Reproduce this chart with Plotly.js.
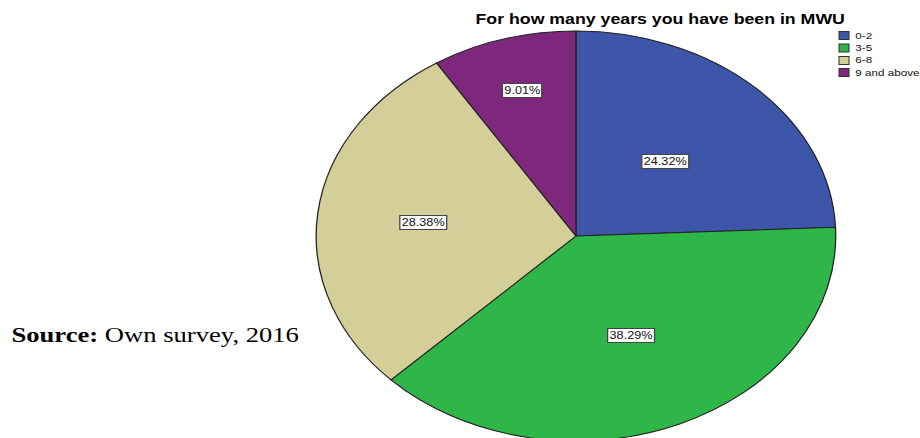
<!DOCTYPE html>
<html><head><meta charset="utf-8">
<script src="https://cdn.plot.ly/plotly-3.0.1.min.js"></script>
<style>
html,body{margin:0;padding:0;overflow:hidden;background:#fff;width:920px;height:438px;}
#wrap{width:726px;height:460px;transform:scaleX(1.26722);transform-origin:0 0;}
</style></head><body>
<div id="wrap"><div id="chart"></div></div>
<script>
// ---- data ----
const categories = ['0-2', '3-5', '6-8', '9 and above'];
const percentages = [24.32, 38.29, 28.38, 9.01];
const sliceColors = ['#3E56AA', '#2EB748', '#D4CE98', '#7D287D'];
const chartTitle = 'For how many years you have been in MWU';
const sourceNote = '<b>Source:</b> Own survey, 2016';

// ---- layout constants (unscaled plot pixels) ----
const W = 726, H = 460;
const CX = 454.5, CY = 236, R = 205;
const labelRadius = [0.5, 0.53, 0.59, 0.74];
const legendRowsY = [35.5, 48, 60.5, 72.5];
const legendSquareX0 = 662.1, legendSquareW = 7.9, legendSquareH = 8, legendTextX = 673.2;

const px2x = p => p / W;
const px2y = p => (H - p) / H;

const total = percentages.reduce((a, b) => a + b, 0);
let cum = 0;
const annotations = [];
const shapes = [];
percentages.forEach((v, i) => {
  const mid = (cum + v / 2) / total * 2 * Math.PI;
  cum += v;
  const px = CX + labelRadius[i] * R * Math.sin(mid);
  const py = CY - labelRadius[i] * R * Math.cos(mid);
  annotations.push({
    xref: 'paper', yref: 'paper', x: px2x(px), y: px2y(py),
    xanchor: 'center', yanchor: 'middle', showarrow: false,
    text: (v / total * 100).toFixed(2) + '%',
    font: {family: 'Liberation Sans, Arial, sans-serif', size: 10, color: '#111'},
    bgcolor: '#ffffff', bordercolor: '#444', borderwidth: 1, borderpad: 1
  });
});

categories.forEach((c, i) => {
  const yc = legendRowsY[i];
  shapes.push({
    type: 'rect', xref: 'paper', yref: 'paper',
    x0: px2x(legendSquareX0), x1: px2x(legendSquareX0 + legendSquareW),
    y0: px2y(yc + legendSquareH / 2), y1: px2y(yc - legendSquareH / 2),
    fillcolor: sliceColors[i], line: {color: '#333', width: 0.8}
  });
  annotations.push({
    xref: 'paper', yref: 'paper', x: px2x(legendTextX), y: px2y(yc),
    xanchor: 'left', yanchor: 'middle', showarrow: false, text: c,
    font: {family: 'Liberation Sans, Arial, sans-serif', size: 9.2, color: '#111'}
  });
});

annotations.push({
  xref: 'paper', yref: 'paper', x: px2x(6.5), y: px2y(335),
  xanchor: 'left', yanchor: 'middle', showarrow: false, text: sourceNote,
  font: {family: 'Liberation Serif, Times New Roman, serif', size: 21, color: '#000'}
});

const trace = {
  type: 'pie', labels: categories, values: percentages,
  marker: {colors: sliceColors, line: {color: '#222', width: 1}},
  sort: false, direction: 'clockwise', rotation: 0,
  textinfo: 'none', hoverinfo: 'none', showlegend: false,
  domain: {x: [px2x(CX - R), px2x(CX + R)], y: [px2y(CY + R), px2y(CY - R)]}
};

const layout = {
  width: W, height: H,
  margin: {l: 0, r: 0, t: 0, b: 0},
  paper_bgcolor: '#ffffff',
  showlegend: false,
  title: {
    text: '<b>' + chartTitle + '</b>',
    font: {family: 'Liberation Sans, Arial, sans-serif', size: 14, color: '#000'},
    xref: 'paper', x: px2x(521), xanchor: 'center',
    yref: 'container', y: px2y(19), yanchor: 'middle'
  },
  annotations: annotations,
  shapes: shapes
};

Plotly.newPlot('chart', [trace], layout, {staticPlot: true, displayModeBar: false});
</script>
</body></html>
